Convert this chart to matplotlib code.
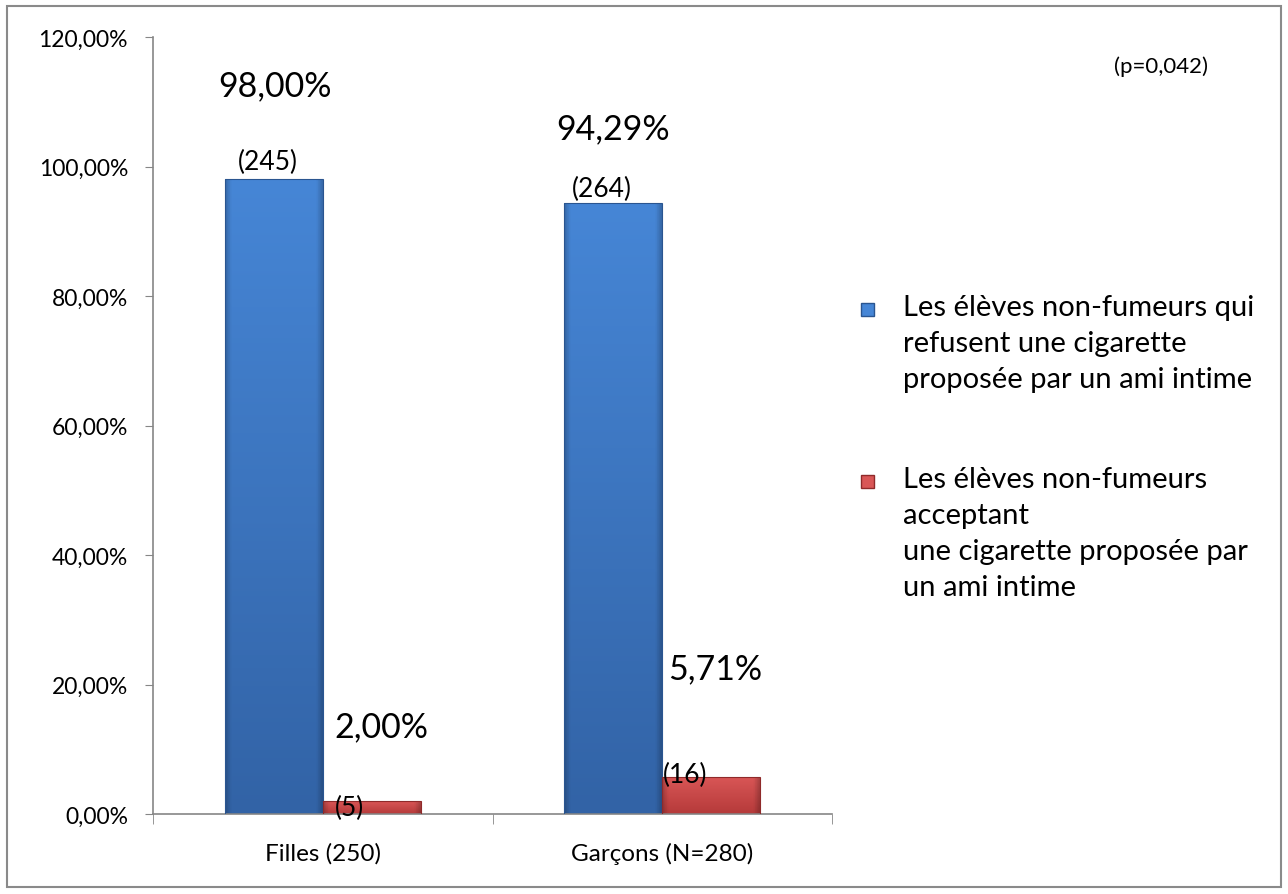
import matplotlib
matplotlib.use("Agg")
import matplotlib.pyplot as plt
import numpy as np
from matplotlib.patches import Rectangle
from matplotlib.colors import to_rgb

plt.rcParams['font.family'] = ['Lato', 'DejaVu Sans']

categories = ["Filles (250)", "Garçons (N=280)"]
refuse_pct = [98.00, 94.29]
accept_pct = [2.00, 5.71]
refuse_n = ["(245)", "(264)"]
accept_n = ["(5)", "(16)"]
refuse_lbl = ["98,00%", "94,29%"]
accept_lbl = ["2,00%", "5,71%"]
yticks = [0, 20, 40, 60, 80, 100, 120]
ytick_labels = ["0,00%", "20,00%", "40,00%", "60,00%", "80,00%", "100,00%", "120,00%"]
legend_labels = ["Les élèves non-fumeurs qui\nrefusent une cigarette\nproposée par un ami intime",
                 "Les élèves non-fumeurs\nacceptant\nune cigarette proposée par\nun ami intime"]
p_text = "(p=0,042)"

W, H = 1288, 895
fig = plt.figure(figsize=(W / 100, H / 100), dpi=100)
ax = fig.add_axes([153 / W, 1 - 815 / H, (832 - 153) / W, (815 - 38) / H])

fig.patches.append(Rectangle((7 / W, 7 / H), (1281 - 7) / W, (888 - 7) / H,
                             transform=fig.transFigure, fill=False,
                             edgecolor="#8a8a8a", linewidth=1.5, zorder=0))

x = np.arange(len(categories))
bw = 0.288

blue_top, blue_bot = "#4686d6", "#3263a6"
red_top, red_bot = "#d95656", "#b53a3a"


def shaded_img(top, bot, n=200, m=60):
    t = np.linspace(0, 1, n).reshape(-1, 1, 1)
    c = np.array(to_rgb(bot)) * (1 - t) + np.array(to_rgb(top)) * t
    u = np.linspace(0, 1, m)
    edge = np.ones(m)
    e = 0.06
    edge = np.where(u < e, 0.80 + 0.20 * u / e, edge)
    edge = np.where(u > 1 - e, 0.80 + 0.20 * (1 - u) / e, edge)
    img = c * edge.reshape(1, -1, 1)
    return np.clip(img, 0, 1)


def bevel_bar(xc, h, top, bot, edge):
    rects = ax.bar([xc], [h], width=bw, color="none", edgecolor=edge, linewidth=0.8, zorder=3)
    r = rects[0]
    im = ax.imshow(shaded_img(top, bot), aspect="auto", origin="lower",
                   extent=[r.get_x(), r.get_x() + r.get_width(), 0, h], zorder=2)
    im.set_clip_path(r)
    return r


for i in range(len(categories)):
    bevel_bar(x[i] - bw / 2, refuse_pct[i], blue_top, blue_bot, "#2a5590")
    bevel_bar(x[i] + bw / 2, accept_pct[i], red_top, red_bot, "#8f2a2a")

ax.set_xlim(-0.5, 1.5)
ax.set_ylim(0, 120)
ax.set_yticks(yticks)
ax.set_yticklabels(ytick_labels, fontsize=16.5)
ax.set_xticks(x)
ax.set_xticklabels(categories, fontsize=17.5)
ax.set_xticks([-0.5, 0.5, 1.5], minor=True)
ax.tick_params(axis="x", which="major", length=0, pad=20)
ax.tick_params(axis="x", which="minor", length=7, color="#868686", direction="out")
ax.tick_params(axis="y", length=6, color="#868686", direction="out", pad=12)
for s in ["top", "right"]:
    ax.spines[s].set_visible(False)
for s in ["left", "bottom"]:
    ax.spines[s].set_color("#868686")
    ax.spines[s].set_linewidth(1.2)

# big percentage labels (offsets in points)
big_offsets_refuse = [(1, 68), (0, 54)]
big_offsets_accept = [(7, 54), (3, 78)]
for i in range(len(categories)):
    ax.annotate(refuse_lbl[i], (x[i] - bw / 2, refuse_pct[i]), xytext=big_offsets_refuse[i],
                textcoords="offset points", ha="center", va="center", fontsize=24.5)
    ax.annotate(accept_lbl[i], (x[i] + bw / 2, accept_pct[i]), xytext=big_offsets_accept[i],
                textcoords="offset points", ha="center", va="center", fontsize=24.5)

n_offsets_refuse = [(-4, 13), (-8, 10.5)]
n_offsets_accept = [(-16, -4.5), (-19, 1.5)]
for i in range(len(categories)):
    ax.annotate(refuse_n[i], (x[i] - bw / 2, refuse_pct[i]), xytext=n_offsets_refuse[i],
                textcoords="offset points", ha="center", va="center", fontsize=19)
    ax.annotate(accept_n[i], (x[i] + bw / 2, accept_pct[i]), xytext=n_offsets_accept[i],
                textcoords="offset points", ha="center", va="center", fontsize=19)

# legend (drawn manually so the marker sits on the first text line)
leg_colors = [(blue_top, blue_bot, "#2a5590"), (red_top, red_bot, "#8f2a2a")]
leg_first_line_y = [310, 482]
for lbl, (ct, cb, ce), yy in zip(legend_labels, leg_colors, leg_first_line_y):
    sq = Rectangle((861 / W, 1 - (yy + 7) / H), 13 / W, 13 / H, transform=fig.transFigure,
                   facecolor=ct, edgecolor=ce, linewidth=1.0)
    fig.patches.append(sq)
    fig.text(903 / W, 1 - (yy - 15) / H, lbl, ha="left", va="top", fontsize=21,
             linespacing=1.48)

fig.text(1161 / W, 1 - 67 / H, p_text, ha="center", va="center", fontsize=16)

fig.savefig("out.png", dpi=100)
